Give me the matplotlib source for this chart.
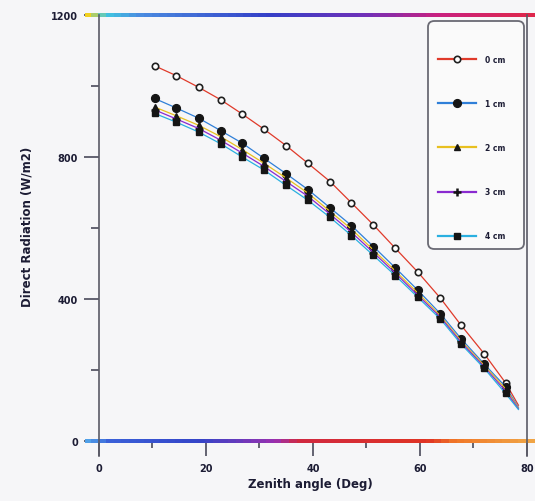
import numpy as np
from matplotlib import pyplot as plt
from matplotlib.collections import LineCollection
from matplotlib.colors import LinearSegmentedColormap
from matplotlib.lines import Line2D
from matplotlib.patches import FancyBboxPatch

# zenith angle (deg); the last entry is the line end, drawn without a marker
zenith = [10.4, 14.5, 18.7, 22.8, 26.8, 30.8, 35.0, 39.1, 43.2, 47.2,
          51.3, 55.4, 59.6, 63.8, 67.7, 72.0, 76.0, 78.4]

# direct radiation (W/m2) for each CO2 layer thickness
rad_0cm = [1056, 1028, 995, 960, 920, 878, 831, 781, 730, 670,
           608, 542, 475, 402, 325, 245, 163, 100]
rad_1cm = [964, 937, 908, 873, 838, 796, 752, 707, 656, 606,
           547, 487, 424, 358, 287, 216, 152, 94]
rad_2cm = [940, 915, 888, 856, 820, 782, 740, 697, 646, 596,
           537, 478, 416, 352, 281, 212, 146, 92]
rad_3cm = [932, 906, 879, 846, 810, 773, 730, 688, 638, 587,
           530, 472, 410, 348, 277, 208, 140, 90]
rad_4cm = [922, 897, 869, 836, 799, 763, 719, 677, 629, 578,
           522, 465, 404, 343, 272, 204, 133, 88]

labels = ["0 cm", "1 cm", "2 cm", "3 cm", "4 cm"]
xticks = [0, 20, 40, 60, 80]
yticks = [0, 400, 800, 1200]

ink = "#1c1c34"
bg = "#f6f6f8"

fig = plt.figure(figsize=(5.35, 5.02), dpi=100, facecolor=bg)
ax = fig.add_axes([85 / 535, 1 - 460 / 502, 450 / 535, 450 / 502])
ax.set_facecolor(bg)
ax.set_xlim(-2.6, 81.5)
ax.set_ylim(-51.5, 1216)

for s in ax.spines.values():
    s.set_color("none")
ax.spines["bottom"].set_position(("data", 0))
ax.spines["left"].set_position(("data", 0))


def gradient_hline(y, stops):
    cmap = LinearSegmentedColormap.from_list("band", stops)
    xs = np.linspace(0, 1, 60)
    segs = [[(xs[i], y), (xs[i + 1], y)] for i in range(len(xs) - 1)]
    lc = LineCollection(segs, colors=cmap(xs[:-1]), linewidths=1.5,
                        capstyle="projecting", antialiaseds=False,
                        transform=ax.get_yaxis_transform(), zorder=2)
    ax.add_collection(lc)


gradient_hline(1200, [(0, "#f0d020"), (0.04, "#40c8e0"), (0.12, "#4a8ae0"),
                      (0.4, "#3440c8"), (0.62, "#7030b8"), (0.78, "#c82080"),
                      (1, "#e02848")])
gradient_hline(0, [(0, "#50a0e8"), (0.05, "#3a60d8"), (0.25, "#3444c8"),
                   (0.42, "#9a30b0"), (0.47, "#d02840"), (0.76, "#e03424"),
                   (0.82, "#f07828"), (1, "#f0a848")])

# vertical frame lines at 0 and 80 deg
for xv in (0, 80):
    ax.plot([xv, xv], [-43, 1200], color="#5a5a66", lw=1.2, zorder=2)

ax.set_xticks(xticks)
ax.set_xticks([10, 30, 50, 70], minor=True)
ax.set_yticks(yticks)
ax.set_yticks([200, 600, 1000], minor=True)
ax.tick_params(axis="both", which="major", direction="out", length=11,
               width=1.2, color="#4a4a5a", labelsize=7, labelcolor=ink)
ax.tick_params(axis="both", which="minor", direction="out", length=5,
               width=1.2, color="#4a4a5a")
ax.tick_params(axis="x", which="major", pad=5)
ax.tick_params(axis="y", which="major", pad=4)
ax.tick_params(axis="y", which="minor", length=6)
for lab in ax.get_xticklabels() + ax.get_yticklabels():
    lab.set_fontweight("bold")
ymaj = ax.yaxis.get_major_ticks()
for t, c in zip(ymaj, ["#3a60d8", "#7a30b8", "#e8c830", "#e8c830"]):
    t.tick1line.set_color(c)
for t, c in zip(ax.yaxis.get_minor_ticks(), ["#3a50c0", "#b03070", "#303890"]):
    t.tick1line.set_color(c)

series = [rad_0cm, rad_1cm, rad_2cm, rad_3cm, rad_4cm]
colors = ["#e03a2a", "#2f7fd8", "#e8c020", "#8a2ad0", "#2ab0e0"]
markers = [
    dict(marker="o", ms=4.6, mfc="white", mec="#202020", mew=1.2),
    dict(marker="o", ms=5.6, mfc="#151515", mec="#151515"),
    dict(marker="^", ms=5.0, mfc="#151515", mec="#151515"),
    dict(marker="+", ms=6.0, mfc="#151515", mec="#151515", mew=1.8),
    dict(marker="s", ms=4.0, mfc="#151515", mec="#151515"),
]
handles = []
for ys, c, mk, lab in zip(series, colors, markers, labels):
    ax.plot(zenith, ys, color=c, lw=0.9, markevery=slice(0, len(zenith) - 1),
            zorder=3, **mk)
    handles.append(Line2D([], [], color=c, lw=1.6, **mk))

ax.set_xlabel("Zenith angle (Deg)", fontsize=8.5, fontweight="bold",
              color=ink, labelpad=3)
fig.text(27 / 535, 1 - 227 / 502, "Direct Radiation (W/m2)", rotation=90,
         ha="center", va="center", fontsize=8.5, fontweight="bold", color=ink)

# legend box with rounded corners
box = FancyBboxPatch((428 / 535, 1 - 250 / 502), 96 / 535, 228 / 502,
                     boxstyle="round,pad=0,rounding_size=0.012",
                     transform=fig.transFigure, facecolor="#fafafa",
                     edgecolor="#6a6a74", lw=1.3, zorder=5)
fig.patches.append(box)
leg = fig.legend(handles=handles, labels=labels, loc="upper left",
                 bbox_to_anchor=(434 / 535, 1 - 52 / 502),
                 frameon=False, fontsize=5.5, handlelength=5.0,
                 handletextpad=1.2, labelspacing=4.6, borderpad=0)
for t in leg.get_texts():
    t.set_fontweight("bold")
    t.set_color(ink)
leg.set_zorder(6)

fig.savefig("out.png", dpi=100, facecolor=bg)
